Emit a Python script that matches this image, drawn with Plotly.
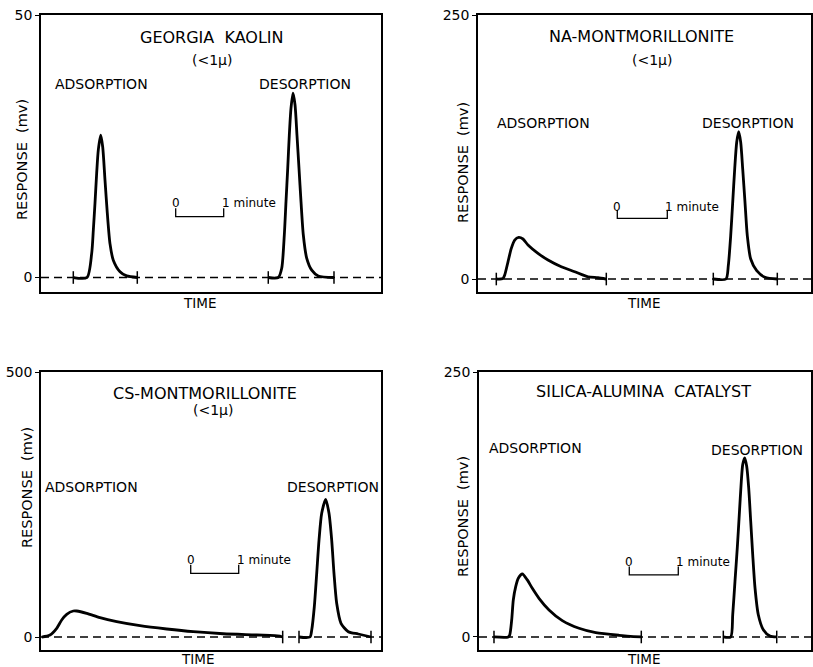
import plotly.graph_objects as go

# ---------------- data (time in minutes, response in mV) ----------------
# Georgia kaolin
kaolin_ads_t = [0.673, 0.958, 1.056, 1.090, 1.125, 1.160, 1.194, 1.244, 1.285, 1.333, 1.381, 1.438, 1.506, 1.646, 1.785, 2.006]
kaolin_ads_mv = [0, 0, 4.6, 9.0, 14.2, 19.9, 24.3, 27.1, 24.9, 18.6, 12.3, 6.4, 3.3, 1.1, 0.3, 0]
kaolin_des_t = [4.735, 4.944, 5.015, 5.069, 5.104, 5.140, 5.173, 5.208, 5.250, 5.292, 5.333, 5.375, 5.417, 5.465, 5.535, 5.640, 5.777, 6.104]
kaolin_des_mv = [0, 0, 1.75, 8.1, 14.4, 20.8, 27.1, 32.2, 35.1, 32.9, 27.1, 20.8, 14.4, 8.1, 3.7, 1.4, 0.3, 0]
kaolin_marks = [0.673, 2.006, 4.735, 6.104]

# Na-montmorillonite
na_ads_t = [0.366, 0.500, 0.534, 0.600, 0.666, 0.734, 0.814, 0.900, 1.000, 1.200, 1.400, 1.666, 1.934, 2.200, 2.400, 2.566]
na_ads_mv = [0, 0.5, 3.8, 16.3, 29.0, 36.9, 39.4, 37.9, 32.2, 24.3, 18.0, 11.6, 6.9, 2.1, 1.2, 0]
na_des_t = [4.706, 4.960, 5.006, 5.054, 5.094, 5.134, 5.174, 5.214, 5.254, 5.294, 5.340, 5.386, 5.454, 5.574, 5.740, 5.986]
na_des_mv = [0, 0, 12.6, 41.0, 72.6, 104.2, 129.5, 139.5, 129.5, 104.2, 72.6, 41.0, 18.9, 7.9, 1.6, 0]
na_marks = [0.366, 2.566, 4.706, 5.986]

# Cs-montmorillonite
cs_ads_t = [0.015, 0.1875, 0.327, 0.431, 0.535, 0.673, 0.744, 0.952, 1.229, 1.577, 2.0625, 2.619, 3.173, 3.798, 4.494, 4.979, 5.035]
cs_ads_mv = [0, 3.8, 16.4, 32.1, 42.8, 49.1, 49.1, 44.7, 36.4, 28.9, 21.3, 15.1, 10.0, 6.2, 3.8, 1.9, 0]
cs_des_t = [5.375, 5.604, 5.640, 5.694, 5.744, 5.792, 5.848, 5.931, 6.000, 6.056, 6.104, 6.160, 6.250, 6.402, 6.610, 6.875]
cs_des_mv = [0, 0, 13.2, 57.1, 120.1, 183.0, 233.4, 259.8, 233.4, 183.0, 120.1, 63.6, 25.9, 10.0, 5.7, 0]
cs_marks = [5.035, 5.375, 6.875]

# Silica-alumina catalyst
sa_ads_t = [0.306, 0.598, 0.627, 0.667, 0.700, 0.749, 0.802, 0.884, 0.986, 1.088, 1.224, 1.429, 1.700, 2.041, 2.382, 2.857, 3.312]
sa_ads_mv = [0, 0, 1.9, 16.0, 34.9, 47.5, 55.4, 59.4, 53.8, 45.9, 36.5, 25.5, 15.4, 8.2, 4.1, 1.6, 0]
sa_des_t = [4.986, 5.137, 5.178, 5.224, 5.271, 5.312, 5.353, 5.382, 5.422, 5.463, 5.504, 5.545, 5.586, 5.633, 5.700, 5.802, 5.939, 6.076]
sa_des_mv = [0, 0, 21.0, 52.5, 84.0, 115.4, 146.9, 162.6, 168.9, 161.0, 140.6, 109.2, 77.7, 46.2, 21.0, 6.9, 0.9, 0]
sa_marks = [0.306, 3.312, 4.986, 6.076]

titles = ["GEORGIA  KAOLIN", "NA-MONTMORILLONITE", "CS-MONTMORILLONITE", "SILICA-ALUMINA  CATALYST"]
subtitles = ["(&lt;1µ)", "(&lt;1µ)", "(&lt;1µ)", ""]
y_max = [50, 250, 500, 250]

# ---------------- layout geometry ----------------
W, H = 813, 667
FONT = "DejaVu Sans"

panels = [
    dict(ads=(kaolin_ads_t, kaolin_ads_mv), des=(kaolin_des_t, kaolin_des_mv), marks=kaolin_marks,
         xd=[41 / W, 381 / W], yd=[1 - 292 / H, 1 - 15 / H], xr=[0, 340 / 48], yr=[-2.76, 50],
         title=(3.5625, 45.8), sub=(3.5625, 41.4), ads_lab=(1.27, 36.9), des_lab=(5.5, 36.9),
         bar=(2.806, 11.6, 1.6), bar_txt=14.2, time=(199, 303), resp=(22, 160)),
    dict(ads=(na_ads_t, na_ads_mv), des=(na_des_t, na_des_mv), marks=na_marks,
         xd=[478 / W, 811 / W], yd=[1 - 292 / H, 1 - 15 / H], xr=[0, 333 / 50], yr=[-12.3, 250],
         title=(3.26, 229.5), sub=(3.47, 207.4), ads_lab=(1.307, 147.4), des_lab=(5.407, 147.4),
         bar=(2.786, 57.5, 8.0), bar_txt=68.0, time=(643, 303), resp=(463, 162)),
    dict(ads=(cs_ads_t, cs_ads_mv), des=(cs_des_t, cs_des_mv), marks=cs_marks,
         xd=[41 / W, 381 / W], yd=[1 - 650 / H, 1 - 372 / H], xr=[0, 340 / 48], yr=[-24.5, 500],
         title=(3.417, 459.9), sub=(3.59, 428.3), ads_lab=(1.056, 283.6), des_lab=(6.09, 283.6),
         bar=(3.119, 120.2, 16.0), bar_txt=145.3, time=(197, 659), resp=(27, 488)),
    dict(ads=(sa_ads_t, sa_ads_mv), des=(sa_des_t, sa_des_mv), marks=sa_marks,
         xd=[479 / W, 811 / W], yd=[1 - 650 / H, 1 - 372 / H], xr=[0, 332 / 49], yr=[-12.3, 250],
         title=(3.353, 231.4), sub=None, ads_lab=(1.143, 178.0), des_lab=(5.667, 176.4),
         bar=(3.067, 58.5, 8.0), bar_txt=71.0, time=(643, 659), resp=(463, 516)),
]

fig = go.Figure()
annotations = []
layout = {}

for i, p in enumerate(panels):
    n = "" if i == 0 else str(i + 1)
    xa, ya = "x" + n, "y" + n
    # dashed baseline
    fig.add_trace(go.Scatter(x=[p["xr"][0], p["xr"][1]], y=[0, 0], mode="lines",
                             line=dict(color="black", width=1.4, dash="8px,5px"),
                             xaxis=xa, yaxis=ya, showlegend=False, hoverinfo="skip"))
    # peaks
    for t, mv in (p["ads"], p["des"]):
        fig.add_trace(go.Scatter(x=t, y=mv, mode="lines",
                                 line=dict(color="black", width=2.8, shape="spline", smoothing=0.7),
                                 xaxis=xa, yaxis=ya, showlegend=False))
    # cross marks on baseline
    fig.add_trace(go.Scatter(x=p["marks"], y=[0] * len(p["marks"]), mode="markers",
                             marker=dict(symbol="line-ns", size=9, line=dict(color="black", width=1.5)),
                             xaxis=xa, yaxis=ya, showlegend=False, hoverinfo="skip"))
    # 1-minute scale bar
    bx, by, bh = p["bar"]
    fig.add_trace(go.Scatter(x=[bx, bx, bx + 1, bx + 1], y=[by + bh, by, by, by + bh], mode="lines",
                             line=dict(color="black", width=1.3),
                             xaxis=xa, yaxis=ya, showlegend=False, hoverinfo="skip"))
    annotations.append(dict(x=bx, y=p["bar_txt"], xref=xa, yref=ya, text="0", showarrow=False,
                            font=dict(family=FONT, size=12, color="black"), xanchor="center", yanchor="middle"))
    annotations.append(dict(x=bx + 1, y=p["bar_txt"], xref=xa, yref=ya, text="1 minute", showarrow=False,
                            font=dict(family=FONT, size=12, color="black"), xanchor="left", yanchor="middle",
                            xshift=-4))
    # texts
    annotations.append(dict(x=p["title"][0], y=p["title"][1], xref=xa, yref=ya, text=titles[i], showarrow=False,
                            font=dict(family=FONT, size=16, color="black"), xanchor="center", yanchor="middle"))
    if p["sub"]:
        annotations.append(dict(x=p["sub"][0], y=p["sub"][1], xref=xa, yref=ya, text=subtitles[i],
                                showarrow=False, font=dict(family=FONT, size=14, color="black"),
                                xanchor="center", yanchor="middle"))
    annotations.append(dict(x=p["ads_lab"][0], y=p["ads_lab"][1], xref=xa, yref=ya, text="ADSORPTION",
                            showarrow=False, font=dict(family=FONT, size=14, color="black"),
                            xanchor="center", yanchor="middle"))
    annotations.append(dict(x=p["des_lab"][0], y=p["des_lab"][1], xref=xa, yref=ya, text="DESORPTION",
                            showarrow=False, font=dict(family=FONT, size=14, color="black"),
                            xanchor="center", yanchor="middle"))
    annotations.append(dict(x=p["time"][0] / W, y=1 - p["time"][1] / H, xref="paper", yref="paper", text="TIME",
                            showarrow=False, font=dict(family=FONT, size=13.5, color="black"),
                            xanchor="center", yanchor="middle"))
    annotations.append(dict(x=p["resp"][0] / W, y=1 - p["resp"][1] / H, xref="paper", yref="paper",
                            text="RESPONSE  (mv)", textangle=-90, showarrow=False,
                            font=dict(family=FONT, size=14.5, color="black"),
                            xanchor="center", yanchor="middle"))

    layout["xaxis" + n] = dict(domain=p["xd"], range=p["xr"], anchor=ya, showline=True, mirror=True,
                               linecolor="black", linewidth=1.6, showgrid=False, zeroline=False,
                               showticklabels=False, ticks="", automargin=False)
    layout["yaxis" + n] = dict(domain=p["yd"], range=p["yr"], anchor=xa, showline=True, mirror=True,
                               linecolor="black", linewidth=1.6, showgrid=False, zeroline=False,
                               tickvals=[0, y_max[i]], ticktext=["0", str(y_max[i])], ticks="outside",
                               ticklen=4, tickwidth=1.3, tickcolor="black", automargin=False,
                               tickfont=dict(family=FONT, size=14, color="black"))

fig.update_layout(width=W, height=H, margin=dict(l=0, r=0, t=0, b=0, pad=0), plot_bgcolor="white",
                  paper_bgcolor="white", annotations=annotations, showlegend=False, **layout)
fig.write_html("out.html", config={"displayModeBar": False},
               post_script="document.body.style.margin='0';document.body.style.overflow='hidden';")
